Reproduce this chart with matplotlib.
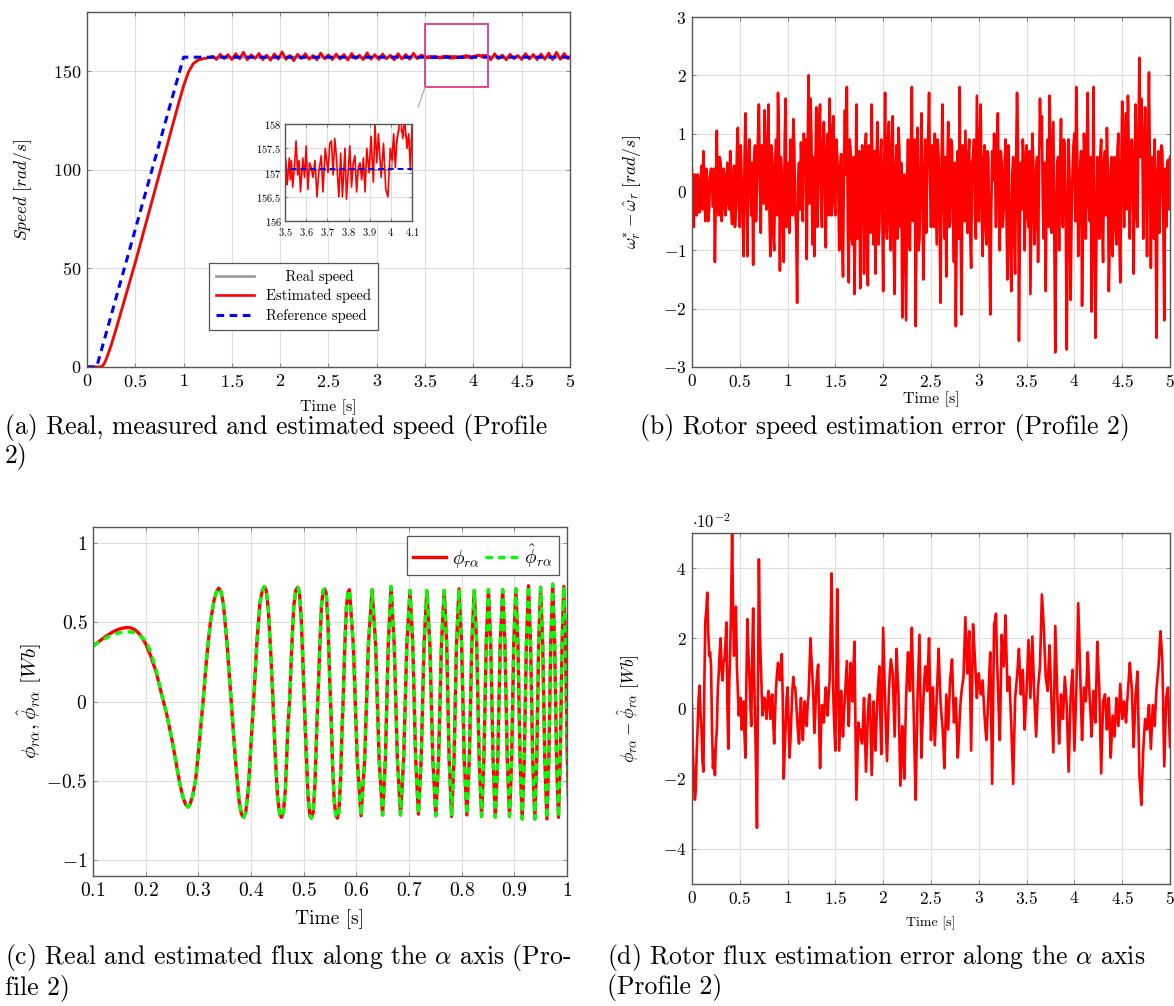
import numpy as np
import matplotlib
matplotlib.use('Agg')
import matplotlib.pyplot as plt
from matplotlib.patches import Rectangle, ConnectionPatch
from matplotlib.ticker import FuncFormatter, MultipleLocator

plt.rcParams['font.family'] = 'cmr10'
plt.rcParams['mathtext.fontset'] = 'cm'
plt.rcParams['axes.formatter.use_mathtext'] = True

# ---------------- (a) speed ----------------
ref_t = [0.0, 0.1, 1.0, 5.0]
ref_speed = [0.0, 0.0, 157.08, 157.08]

ramp_t = [0.0, 0.14, 0.17, 0.20, 0.25, 0.30, 0.40, 0.50, 0.60, 0.70, 0.80, 0.90,
          0.95, 1.00, 1.05, 1.10, 1.15, 1.20, 1.26]
ramp_speed = [0.0, 0.0, 1.0, 4.0, 11.0, 19.0, 36.0, 53.0, 71.0, 89.0, 107.0, 125.0,
              134.0, 142.5, 149.5, 153.8, 155.6, 156.3, 156.8]

# estimated speed, noisy part (every 0.04 s from 1.30 s)
est_tail1 = [157.6, 155.9, 158.6, 156.3, 158.4, 155.8, 158.9, 156.2, 159.6, 155.7,
             158.3, 156.4, 159.0, 155.8, 158.1, 155.5, 158.8, 156.0, 159.8, 155.9,
             158.0, 155.3, 158.6, 156.3, 158.9, 156.0, 158.0, 155.7, 159.2, 156.2,
             158.3, 155.8, 158.7, 156.1, 158.5, 155.6, 159.0, 156.3, 158.1, 155.8,
             159.3, 156.0, 158.4, 155.9, 158.7, 156.2, 158.1, 155.7, 158.9, 156.1,
             158.5, 156.0, 159.1, 156.3, 158.2]
# zoomed window
est_zoom_t = [3.500, 3.505, 3.510, 3.515, 3.520, 3.525, 3.530, 3.536, 3.544, 3.552,
              3.560, 3.566, 3.573, 3.584, 3.592, 3.600, 3.608, 3.616, 3.624, 3.632,
              3.641, 3.651, 3.659, 3.671, 3.679, 3.690, 3.703, 3.711, 3.719, 3.727,
              3.735, 3.743, 3.754, 3.763, 3.771, 3.783, 3.790, 3.798, 3.806, 3.814,
              3.822, 3.830, 3.838, 3.846, 3.854, 3.862, 3.870, 3.878, 3.886, 3.897,
              3.906, 3.917, 3.925, 3.933, 3.941, 3.954, 3.965, 3.976, 3.986, 3.997,
              4.005, 4.013, 4.021, 4.029, 4.037, 4.044, 4.056, 4.065, 4.076, 4.084,
              4.092, 4.100]
est_zoom_v = [157.35, 157.20, 156.75, 157.00, 157.30, 156.85, 157.25, 156.70, 157.10, 157.65,
              156.95, 157.25, 156.60, 157.30, 156.90, 157.55, 156.65, 157.20, 157.10, 156.90,
              157.25, 156.50, 157.00, 157.35, 156.60, 157.50, 157.00, 157.60, 157.65, 156.95,
              157.70, 157.30, 156.50, 157.40, 156.50, 157.50, 156.45, 157.00, 157.55, 156.70,
              157.20, 157.35, 156.60, 157.10, 157.20, 156.85, 157.30, 156.60, 157.50, 157.00,
              157.75, 156.80, 158.00, 157.20, 157.80, 156.90, 157.60, 156.65, 156.50, 157.50,
              157.25, 157.80, 157.10, 157.70, 157.90, 158.20, 157.70, 158.10, 157.50, 157.80,
              157.05, 158.00]
est_tail2 = [157.9, 155.8, 158.8, 156.2, 158.2, 155.7, 158.6, 156.3, 158.0, 155.9,
             158.9, 156.1, 158.5, 155.8, 158.7, 156.0, 159.2, 155.8, 159.6, 155.9,
             159.0, 156.2, 158.1]

real_flat_t = [1.35, 4.00, 4.02, 4.04, 4.06, 4.08, 4.10, 4.20, 5.00]
real_flat_speed = [157.05, 157.05, 157.50, 157.90, 157.80, 157.70, 157.60, 157.10, 157.05]

zoom_box = (3.5, 4.15, 142.0, 174.0)  # x0, x1, y0, y1 of the magnified region

# ---------------- (b) speed error, samples at even and odd 0.01 s ----------------
speed_err_even = [
    0.40, -0.60, 0.05, 0.30, -0.35, 0.45, 0.70, -0.50, 0.20, -0.30,
    0.40, -0.25, -1.20, 1.05, -0.40, 0.50, -0.30, 0.30, -0.20, 0.10,
    0.70, -0.55, 0.45, -0.30, 1.10, -0.60, 0.20, -1.10, 1.35, -1.10,
    0.90, -0.40, -1.25, 0.80, 0.10, 1.50, -0.70, 0.60, 1.40, -0.30,
    1.50, -1.10, 0.60, -1.00, 0.90, 1.70, -1.35, 0.30, -1.20, 1.60,
    0.40, -0.70, 0.80, 1.25, -0.30, -1.90, 0.50, 0.85, -0.50, 0.60,
    -1.15, 2.00, 1.60, -0.90, -1.10, 1.45, 0.20, 1.50, -0.60, 1.20,
    -0.95, 1.00, 1.60, -0.40, 1.30, -0.40, 0.60, -1.00, 0.65, -1.45,
    1.40, 1.80, -1.55, 0.70, -0.90, -1.75, 1.50, 0.30, -1.65, 0.80,
    -1.40, 1.00, -1.60, 0.60, 1.50, -0.90, -1.40, 1.20, -0.60, 0.90,
    -1.70, 1.70, -0.80, 1.20, -1.00, 1.30, -1.75, 0.80, 1.10, -0.60,
    -2.15, 0.30, -2.20, 0.90, -1.00, 1.80, -0.20, -2.30, 1.10, -0.80,
    1.35, -1.50, 0.90, 0.40, 1.70, -0.60, 0.50, 1.00, -0.90, 0.60,
    -1.90, 1.50, -0.80, -1.45, 1.20, -0.50, 0.80, -1.20, -2.30, 0.70,
    1.80, -2.10, 0.20, 1.05, -0.70, 0.90, -1.30, 0.60, -0.40, 1.65,
    -0.50, 1.50, -1.10, 0.80, -0.90, 0.60, -2.10, 0.70, 1.00, -0.60,
    1.35, -1.00, 0.50, -0.30, 0.90, -1.50, -0.20, -1.70, 0.60, -1.40,
    1.70, -2.55, 0.50, 0.90, -1.00, 0.80, -0.60, -1.75, 1.00, -0.90,
    0.40, -1.20, 1.60, 1.30, -0.80, -1.70, 0.90, 1.65, -0.70, 1.20,
    -2.75, 0.50, -1.00, 1.25, -0.60, 0.80, -2.70, 0.90, -1.85, 0.30,
    1.00, 1.80, -1.10, 0.40, -1.95, 1.00, -0.80, 1.70, -0.50, -2.05,
    1.80, -2.50, 0.60, -0.80, 0.90, -1.20, 0.70, 1.10, -1.70, 0.40,
    -1.10, 0.60, -0.90, 1.00, -1.55, 1.55, -0.60, 1.35, 1.65, -0.80,
    0.90, -1.40, 1.50, -0.60, 2.30, 1.60, -0.80, 1.45, -1.10, 2.05,
    -1.30, 0.50, 0.90, -2.50, 0.70, 0.20, 0.70, -2.20, -0.60, 0.55,
    0.60]
speed_err_odd = [
    -0.2, 0.3, -0.4, 0.1, 0.2, -0.3, 0.1, 0.4, -0.5, 0.3,
    0.1, 0.4, 0.0, -0.3, 0.6, -0.5, 0.4, -0.4, 0.5, -0.3,
    -0.3, 0.2, -0.6, 0.7, -0.2, 0.8, -0.4, 0.6, 0.1, 0.5,
    0.2, 0.5, 0.6, -0.5, 0.9, 0.3, 0.8, -0.2, 0.7, 0.4,
    -0.3, 0.8, -0.7, 0.5, -0.4, 0.9, 0.6, -0.5, 0.9, -0.6,
    0.5, 0.9, -0.4, 0.8, -0.6, 0.2, -0.3, 0.4, 1.0, 0.9,
    0.7, -0.2, 0.9, 0.6, 0.3, -0.6, 1.2, -0.2, 0.8, 0.4,
    0.6, -0.4, 0.7, 1.0, -0.2, 0.9, 0.1, 0.4, -0.7, 0.5,
    0.3, -0.6, 0.9, -0.8, 0.6, -0.4, -0.8, 0.7, -0.2, 0.5,
    0.6, -0.8, 0.8, -0.7, 0.2, 0.7, 0.5, -0.9, 0.6, -0.3,
    0.3, -0.5, 0.9, -0.6, 0.8, -0.9, 0.4, -0.8, 0.7, 0.5,
    -0.6, -0.9, 0.2, -0.8, 0.7, -0.5, 0.9, -0.4, -1.0, 0.2,
    0.3, -0.4, -0.7, 0.9, 0.2, 0.8, -0.6, 0.1, 0.9, -0.5,
    0.4, 0.2, 0.6, 0.3, -0.6, 0.9, -0.3, 0.5, -0.4, -0.8,
    -0.6, 0.8, -0.5, 0.2, 0.6, -0.7, 0.5, 0.9, -0.8, 0.6,
    0.8, -0.3, 0.5, -0.6, 0.7, -0.8, -0.4, 0.2, 0.4, 0.9,
    -0.2, 0.7, -0.6, 0.4, -0.5, 0.8, -0.9, 0.3, -0.8, 0.5,
    0.9, -0.7, -0.3, 0.6, 0.2, -0.4, 0.7, -0.3, 0.5, -0.6,
    0.6, 0.3, 0.8, -0.3, 0.5, 0.4, -0.6, 0.9, 0.3, -0.8,
    -0.4, 0.6, 0.5, -0.3, 0.9, -0.5, -0.7, 0.2, -0.5, 0.8,
    -0.5, 0.6, -0.3, 0.7, -0.6, 0.4, 0.8, -0.2, 0.6, -0.4,
    -0.6, -0.9, 0.4, 0.6, -0.5, 0.5, -0.4, 0.3, -0.8, 0.6,
    0.2, -0.6, 0.7, -0.8, 0.4, 0.2, 0.9, -0.3, 0.5, 0.7,
    0.4, 0.5, -0.4, 1.0, 0.6, 0.9, 0.7, 0.2, 0.8, 0.3,
    0.6, -0.8, -0.6, 0.3, -0.7, 0.8, -0.5, 0.4, 0.5, -0.3]

# ---------------- (c) flux alpha ----------------
flux_t = [0.100, 0.110, 0.120, 0.130, 0.140, 0.150, 0.160, 0.170, 0.180, 0.190,
          0.200, 0.210, 0.220, 0.230, 0.240, 0.250, 0.258, 0.265, 0.271, 0.276,
          0.280, 0.284, 0.289, 0.295, 0.302, 0.309, 0.316, 0.323, 0.330, 0.335,
          0.3390, 0.3430, 0.3475, 0.3547, 0.3625, 0.3703, 0.3775, 0.3820, 0.3860,
          0.3900, 0.3950, 0.4010, 0.4058, 0.4110, 0.4170, 0.4215, 0.4255,
          0.4290, 0.4330, 0.4380, 0.4418, 0.4460, 0.4505, 0.4545, 0.4580,
          0.4615, 0.4655, 0.4700, 0.4733, 0.4770, 0.4812, 0.4850, 0.4886,
          0.4920, 0.4955, 0.4990, 0.5018, 0.5050, 0.5085, 0.5120, 0.5150,
          0.5182, 0.5215, 0.5250, 0.5275, 0.5305, 0.5338, 0.5370, 0.5400,
          0.5430, 0.5462, 0.5495, 0.5520, 0.5550, 0.5580, 0.5612, 0.5640,
          0.5668, 0.5700, 0.5732, 0.5755, 0.5783, 0.5813, 0.5843, 0.5870,
          0.5943, 0.6017, 0.6090, 0.6160, 0.6230, 0.6300,
          0.6367, 0.6433, 0.6500, 0.6553, 0.6607, 0.6660,
          0.6720, 0.6780, 0.6840, 0.6900, 0.6960, 0.7020,
          0.7073, 0.7127, 0.7180, 0.7233, 0.7287, 0.7340,
          0.7397, 0.7453, 0.7510, 0.7563, 0.7617, 0.7670,
          0.7717, 0.7763, 0.7810, 0.7857, 0.7903, 0.7950,
          0.8000, 0.8050, 0.8100, 0.8147, 0.8193, 0.8240,
          0.8287, 0.8333, 0.8380, 0.8423, 0.8467, 0.8510,
          0.8553, 0.8597, 0.8640, 0.8687, 0.8733, 0.8780,
          0.8823, 0.8867, 0.8910, 0.8950, 0.8990, 0.9030,
          0.9070, 0.9110, 0.9150, 0.9190, 0.9230, 0.9270,
          0.9310, 0.9350, 0.9390, 0.9427, 0.9463, 0.9500,
          0.9540, 0.9580, 0.9620, 0.9657, 0.9693, 0.9730,
          0.9767, 0.9803, 0.9840, 0.9873, 0.9907, 0.9940,
          0.9973, 1.0007, 1.0040]
flux_real = [0.350, 0.375, 0.400, 0.423, 0.443, 0.457, 0.465, 0.466, 0.452, 0.420,
             0.365, 0.285, 0.185, 0.050, -0.080, -0.240, -0.390, -0.520, -0.605, -0.650,
             -0.665, -0.650, -0.600, -0.490, -0.260, 0.000, 0.280, 0.500, 0.640, 0.695,
             0.715, 0.695, 0.62, 0.36, 0.0, -0.36, -0.63, -0.71, -0.730,
             -0.70, -0.55, -0.22, 0.05, 0.36, 0.62, 0.70, 0.725,
             0.70, 0.58, 0.28, 0.0, -0.33, -0.60, -0.71, -0.730,
             -0.70, -0.55, -0.17, 0.0, 0.31, 0.60, 0.70, 0.720,
             0.69, 0.52, 0.20, -0.05, -0.33, -0.60, -0.72, -0.735,
             -0.70, -0.52, -0.16, 0.05, 0.33, 0.60, 0.70, 0.710,
             0.68, 0.50, 0.14, -0.08, -0.40, -0.62, -0.72, -0.735,
             -0.70, -0.50, -0.15, 0.05, 0.36, 0.60, 0.69, 0.705,
             0.36, -0.36, -0.720, -0.36, 0.36, 0.705,
             0.36, -0.36, -0.715, -0.36, 0.36, 0.725,
             0.36, -0.36, -0.715, -0.36, 0.36, 0.700,
             0.36, -0.36, -0.710, -0.36, 0.36, 0.700,
             0.36, -0.36, -0.720, -0.36, 0.36, 0.700,
             0.36, -0.36, -0.725, -0.36, 0.36, 0.710,
             0.36, -0.36, -0.715, -0.36, 0.36, 0.700,
             0.36, -0.36, -0.725, -0.36, 0.36, 0.705,
             0.36, -0.36, -0.730, -0.36, 0.36, 0.705,
             0.36, -0.36, -0.725, -0.36, 0.36, 0.710,
             0.36, -0.36, -0.740, -0.36, 0.36, 0.730,
             0.36, -0.36, -0.740, -0.36, 0.36, 0.720,
             0.36, -0.36, -0.740, -0.36, 0.36, 0.740,
             0.36, -0.36, -0.730, -0.36, 0.36, 0.725,
             0.36, -0.36, -0.730]
# estimate differs from the real flux only during the first 0.12 s
flux_est_head = [0.350, 0.372, 0.392, 0.410, 0.424, 0.433, 0.438, 0.440, 0.432, 0.412,
                 0.385, 0.310, 0.200]
flux_est = flux_est_head + flux_real[len(flux_est_head):]

# ---------------- (d) flux error (x 1e-2 Wb), even and odd 0.01 s samples ----------------
flux_err_even = [
    0.1, -2.0, -2.35, -0.5, 0.65, -0.6, -1.8, 2.5, 3.3, 1.5,
    1.2, -1.7, -1.9, -0.6, 1.0, 2.0, 0.8, 1.4, 2.45, -1.15,
    1.65, 5.0, 1.5, 2.9, 0.5, 0.2, -0.6, 0.2, -1.4, 2.55,
    1.0, -0.5, 2.85, -0.3, -3.4, 4.25, 1.3, -0.2, 0.3, -0.3,
    0.5, -0.3, 0.4, -1.0, 0.6, 1.3, 0.8, 1.55, -2.0, -0.5,
    0.6, -1.4, -0.2, 0.9, 0.6, -0.3, -1.0, 0.3, -0.9, 0.2,
    -0.5, 0.4, 2.0, 0.9, -0.7, 0.6, 1.25, -1.7, 0.1, -0.4,
    0.6, -0.2, 0.8, 3.85, 0.2, -1.2, 3.4, -1.2, 0.5, -0.8,
    0.3, 1.35, -0.5, 1.3, 0.2, 1.9, -2.6, -0.4, -0.6, -1.0,
    0.3, -1.8, -0.2, 0.4, -1.9, 0.2, -1.2, 0.3, 1.2, -1.3,
    2.3, 0.2, -1.5, 0.5, 1.4, 1.0, -0.8, 1.7, 0.4, -2.2,
    -0.5, -2.0, 0.3, 1.6, 0.5, 2.3, -0.3, -2.6, 0.4, 2.1,
    -1.4, 0.2, 1.2, 0.5, 2.0, -0.9, 0.6, -1.05, 0.3, 1.7,
    0.2, -0.5, -1.7, 0.4, -0.6, 0.8, 1.4, -0.4, 0.3, -1.4,
    -0.3, 0.5, 0.9, 2.6, 1.0, 2.2, -1.2, 2.4, 1.4, 0.3,
    1.0, 0.4, 0.8, -0.2, -0.9, 0.3, 1.6, -2.15, 2.4, 2.7,
    0.6, -0.9, 2.1, 1.2, 2.65, 0.5, 0.9, -0.5, -2.15, 0.3,
    0.9, 1.7, 0.4, 1.1, -0.6, 0.5, 1.95, 0.3, 2.05, 0.4,
    -0.8, 0.6, 1.2, 3.25, 2.3, 0.9, 0.5, 1.8, 0.2, -1.25,
    2.35, 0.5, -1.0, 0.4, -0.3, 0.9, 0.1, -1.8, 0.3, 1.1,
    -1.2, 0.5, 3.0, 1.0, -0.9, 0.6, 0.2, 1.6, 0.3, -0.8,
    0.5, -0.4, 1.9, 0.6, -1.85, 0.2, 0.4, -0.6, 0.3, -1.4,
    -0.2, -0.8, 0.3, -0.5, 0.7, -0.3, 0.2, -0.4, 0.5, 1.3,
    0.6, -1.1, 0.4, 1.05, -1.9, -2.75, -1.2, -0.3, -0.6, 0.1,
    -1.15, 0.1, -0.5, 0.6, 1.2, 2.2, 1.3, -1.65, 0.3, 0.6,
    -1.1]
flux_err_odd = [
    -1.2, -2.6, -1.2, 0.3, -0.2, -1.5, 0.8, 2.8, 2.2, 1.6,
    -0.6, -1.2, -1.0, 0.5, 1.6, 1.1, 1.3, 1.8, 0.2, 0.7,
    3.0, 2.8, 2.4, 1.2, -0.2, 0.3, -0.4, -0.8, 0.9, 1.6,
    0.2, 1.4, 1.0, -1.6, 0.5, 2.2, 0.4, 0.3, 0.1, 0.2,
    0.3, 0.2, -0.4, -0.1, 1.0, 1.1, 1.2, 0.2, -1.2, 0.3,
    -0.3, -0.9, 0.5, 0.6, 0.2, -0.7, -0.2, -0.4, -0.2, -0.3,
    0.1, 1.2, 1.4, 0.3, -0.1, 1.0, -0.4, -0.6, -0.3, 0.2,
    0.3, 0.4, 2.2, 1.8, -0.6, 1.0, 0.9, -0.3, -0.2, -0.1,
    0.8, 0.4, 0.5, 0.9, 1.2, -0.5, -1.5, -0.7, -0.9, -0.3,
    -0.8, -1.0, 0.3, -0.8, -0.8, -0.6, -0.4, 0.8, -0.2, 0.6,
    1.2, -0.7, -0.5, 1.0, 1.2, 0.1, 0.5, 1.0, -0.9, -1.3,
    -1.2, -0.8, 1.0, 1.0, 1.5, 1.0, -1.5, -1.0, 1.3, 0.3,
    -0.5, 0.8, 0.9, 1.3, 0.5, -0.1, -0.2, -0.4, 1.0, 0.9,
    -0.2, -1.0, -0.6, -0.1, 0.1, 1.1, 0.5, -0.1, -0.6, -0.9,
    0.2, 0.7, 1.8, 1.8, 1.6, 0.5, 0.6, 1.9, 0.8, 0.7,
    0.7, 0.6, 0.3, -0.6, -0.3, 1.0, -0.3, 0.2, 2.5, 1.5,
    -0.2, 0.6, 1.6, 1.9, 1.5, 0.7, 0.2, -1.3, -0.9, 0.6,
    1.3, 1.0, 0.8, 0.2, 0.0, 1.2, 1.1, 1.2, 1.2, -0.2,
    -0.1, 0.9, 2.2, 2.8, 1.6, 0.7, 1.2, 1.0, -0.5, 0.6,
    1.4, -0.3, -0.3, 0.0, 0.3, 0.5, -0.9, -0.7, 0.7, -0.1,
    -0.3, 1.8, 2.0, 0.0, -0.1, 0.4, 0.9, 0.9, -0.2, -0.1,
    0.0, 0.8, 1.2, -0.6, -0.8, 0.3, -0.1, -0.1, -0.5, -0.8,
    -0.5, -0.2, -0.1, 0.1, 0.2, -0.1, -0.1, 0.1, 0.9, 0.9,
    -0.3, -0.3, 0.7, -0.4, -2.3, -2.0, -0.7, -0.5, -0.2, -0.5,
    -0.5, -0.2, 0.1, 0.9, 1.7, 1.8, -0.2, -0.7, 0.5, -0.3]


def interleave(even, odd):
    out = np.empty(len(even) + len(odd))
    out[0::2] = even
    out[1::2] = odd
    return out


speed_err = interleave(speed_err_even, speed_err_odd)
flux_err = interleave(flux_err_even, flux_err_odd)
t_err = 0.01 * np.arange(len(speed_err))
t_flux_err = 0.01 * np.arange(len(flux_err))

tail1_t = 1.30 + 0.04 * np.arange(len(est_tail1))
tail2_t = 4.14 + 0.04 * np.arange(len(est_tail2))
est_t = np.concatenate([ramp_t, tail1_t, est_zoom_t, tail2_t])
est_speed = np.concatenate([ramp_speed, est_tail1, est_zoom_v, est_tail2])
real_t = ramp_t + real_flat_t
real_speed = ramp_speed + real_flat_speed

RED = '#ff0000'
GRID = '#dedede'
fmt = FuncFormatter(lambda v, p: f'${v:g}$')


def style(ax, fs):
    ax.grid(True, color=GRID, lw=0.8)
    ax.set_axisbelow(True)
    for s in ax.spines.values():
        s.set_color('#555555')
        s.set_linewidth(1.0)
    ax.tick_params(direction='in', length=3, width=0.6, color='#777777',
                   top=True, right=True, labelsize=fs, pad=4)
    ax.xaxis.set_major_formatter(fmt)
    ax.yaxis.set_major_formatter(fmt)


fig = plt.figure(figsize=(11.74, 10.06), dpi=100)

# (a)
ax = fig.add_axes([0.0741, 0.6352, 0.4114, 0.3529])
# leading spaces centre the shorter labels in the legend box
ax.plot(real_t, real_speed, color='#a0a0a0', lw=2.0, label='    Real speed')
ax.plot(est_t, est_speed, color=RED, lw=1.9, label='Estimated speed')
ax.plot(ref_t, ref_speed, color='#0000ff', lw=2.2, ls=(0, (2.5, 1.8)), label='Reference speed')
ax.set_xlim(0, 5)
ax.set_ylim(0, 180)
ax.xaxis.set_major_locator(MultipleLocator(0.5))
ax.set_yticks([0, 50, 100, 150])
style(ax, 13)
ax.set_xlabel('Time [s]', fontsize=11.5)
ax.set_ylabel(r'$Speed\ [rad/s]$', fontsize=12.5)
ax.xaxis.set_label_coords(0.5, -0.09)
ax.yaxis.set_label_coords(-0.109, 0.5)
leg = ax.legend(loc='lower left', bbox_to_anchor=(0.2526, 0.104), fontsize=10.5,
                fancybox=False, framealpha=1, edgecolor='#555555', borderaxespad=0,
                handlelength=2.6, borderpad=0.5, labelspacing=0.35)
leg.get_frame().set_linewidth(0.9)
x0, x1, y0, y1 = zoom_box
ax.add_patch(Rectangle((x0, y0), x1 - x0, y1 - y0, fill=False,
                       edgecolor='#e6338c', lw=1.3, zorder=5))

axi = fig.add_axes([0.2428, 0.7803, 0.1082, 0.0964])
axi.plot(real_t, real_speed, color='#a0a0a0', lw=1.6)
axi.plot(est_t, est_speed, color=RED, lw=1.2)
axi.plot(ref_t, ref_speed, color='#0000ff', lw=1.4, ls=(0, (3, 2)))
axi.set_xlim(3.5, 4.1)
axi.set_ylim(156, 158)
axi.xaxis.set_major_locator(MultipleLocator(0.1))
axi.yaxis.set_major_locator(MultipleLocator(0.5))
style(axi, 7.5)
axi.tick_params(axis='y', length=2, pad=2.5)
axi.tick_params(axis='x', length=2, pad=3.5)
con = ConnectionPatch(xyA=(x0, y0), coordsA=ax.transData,
                      xyB=(1.0, 1.0), coordsB=axi.transAxes,
                      color='#b0b0b0', lw=0.9, shrinkB=13)
fig.add_artist(con)

# (b)
ax = fig.add_axes([0.5894, 0.6352, 0.4072, 0.3479])
ax.plot(t_err, speed_err, color=RED, lw=1.9)
ax.set_xlim(0, 5)
ax.set_ylim(-3, 3)
ax.xaxis.set_major_locator(MultipleLocator(0.5))
ax.yaxis.set_major_locator(MultipleLocator(1))
style(ax, 12.5)
ax.set_xlabel('Time [s]', fontsize=11.5)
ax.set_ylabel(r'$\omega_r^{*} - \hat{\omega}_r\ [rad/s]$', fontsize=12.5)
ax.xaxis.set_label_coords(0.5, -0.07)
ax.yaxis.set_label_coords(-0.103, 0.5)

# (c)
ax = fig.add_axes([0.0792, 0.1292, 0.4037, 0.3469])
ax.plot(flux_t, flux_real, color=RED, lw=2.4, label=r'$\phi_{r\alpha}$')
ax.plot(flux_t, flux_est, color='#00ff00', lw=2.4, ls=(0, (2.2, 1.6)),
        label=r'$\hat{\phi}_{r\alpha}$')
ax.set_xlim(0.1, 1.0)
ax.set_ylim(-1.1, 1.1)
ax.xaxis.set_major_locator(MultipleLocator(0.1))
ax.yaxis.set_major_locator(MultipleLocator(0.5))
style(ax, 14)
ax.set_xlabel('Time [s]', fontsize=14)
ax.set_ylabel(r'$\phi_{r\alpha}, \hat{\phi}_{r\alpha}\ [Wb]$', fontsize=15)
ax.xaxis.set_label_coords(0.5, -0.095)
ax.yaxis.set_label_coords(-0.104, 0.5)
leg = ax.legend(loc='upper right', ncol=2, fontsize=14, fancybox=False,
                framealpha=1, edgecolor='#555555', handlelength=1.7,
                columnspacing=0.3, handletextpad=0.3, borderpad=0.3,
                borderaxespad=0, bbox_to_anchor=(0.983, 0.974))
leg.get_frame().set_linewidth(0.9)

# (d)
ax = fig.add_axes([0.5894, 0.1213, 0.4072, 0.3489])
ax.plot(t_flux_err, flux_err, color=RED, lw=1.9)
ax.set_xlim(0, 5)
ax.set_ylim(-5, 5)
ax.xaxis.set_major_locator(MultipleLocator(0.5))
ax.yaxis.set_major_locator(MultipleLocator(2))
style(ax, 12.5)
ax.set_xlabel('Time [s]', fontsize=10)
ax.set_ylabel(r'$\phi_{r\alpha} - \hat{\phi}_{r\alpha}\ [Wb]$', fontsize=12.5)
ax.xaxis.set_label_coords(0.5, -0.094)
ax.yaxis.set_label_coords(-0.105, 0.5)
ax.text(0.0, 1.005, r'$\cdot 10^{-2}$', transform=ax.transAxes,
        fontsize=12, ha='left', va='bottom')

# captions
cap = dict(fontsize=18.5, va='top', ha='left', linespacing=1.05)
fig.text(5 / 1174, 1 - 414 / 1006, '(a) Real, measured and estimated speed (Profile\n2)', **cap)
fig.text(640 / 1174, 1 - 414 / 1006, '(b) Rotor speed estimation error (Profile 2)', **cap)
fig.text(5 / 1174, 1 - 942 / 1006, '(c) Real and estimated flux along the $\\alpha$ axis (Pro-\nfile 2)', **cap)
fig.text(607 / 1174, 1 - 942 / 1006, '(d) Rotor flux estimation error along the $\\alpha$ axis\n(Profile 2)', **cap)

fig.savefig('out.png', dpi=100)
